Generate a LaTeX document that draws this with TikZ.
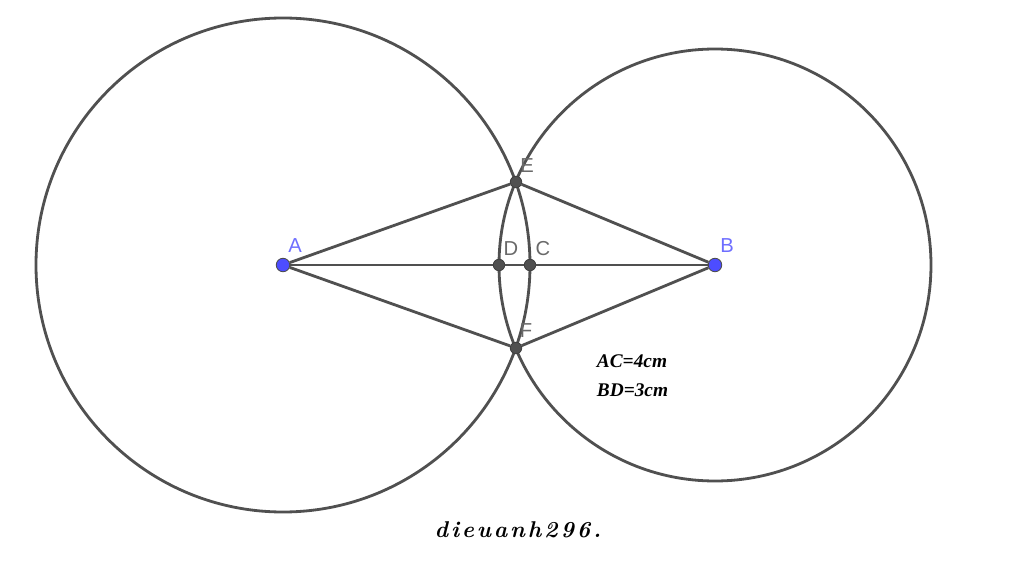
\documentclass[tikz,border=0pt]{standalone}
\usepackage{fontspec}
\setsansfont{Liberation Sans}
\newfontfamily\notefont{Liberation Serif}
\usetikzlibrary{backgrounds}
\definecolor{linegray}{RGB}{80,80,80}
\definecolor{labelgray}{RGB}{105,105,105}
\definecolor{pointblue}{RGB}{77,77,255}
\definecolor{labelblue}{RGB}{110,110,255}
\newcommand{\sgap}{\kern1.6pt}
\tikzset{
  pointdark/.style={circle, draw=black!75, fill=linegray, line width=0.5pt, inner sep=0pt, minimum size=0.23cm},
  pointfree/.style={circle, draw=black!70, fill=pointblue, line width=0.5pt, inner sep=0pt, minimum size=0.27cm},
  geoline/.style={line width=1.6pt, linegray},
  graylabel/.style={labelgray, font=\sffamily\fontsize{11.5}{13}\selectfont},
  bluelabel/.style={labelblue, font=\sffamily\fontsize{11.5}{13}\selectfont},
  notelabel/.style={font=\notefont\bfseries\itshape\fontsize{11}{13}\selectfont}
}

\begin{document}
\begin{tikzpicture}
  \useasboundingbox (0,0) rectangle (20.48,11.36);
  \node[pointfree] (A) at (5.66,6.06) {};
  \node[pointfree] (B) at (14.30,6.06) {};
  \node[pointdark] (E) at (10.32,7.72) {};
  \node[pointdark] (F) at (10.32,4.40) {};
  \node[pointdark] (C) at (10.60,6.06) {};
  \node[pointdark] (D) at (9.98,6.06) {};
  \begin{scope}[on background layer]
    \draw[geoline] (A.center) circle (4.94);
    \draw[geoline] (B.center) circle (4.32);
    \draw[geoline] (A) -- (D) -- (C) -- (B);
    \draw[geoline] (A) -- (E) -- (B) -- (F) -- (A);
  \end{scope}
  \node[bluelabel] (labelA) at (5.90,6.44) {A};
  \node[bluelabel] (labelB) at (14.54,6.44) {B};
  \node[graylabel] (labelE) at (10.54,8.04) {E};
  \node[graylabel] (labelF) at (10.52,4.74) {F};
  \node[graylabel] (labelC) at (10.86,6.38) {C};
  \node[graylabel] (labelD) at (10.22,6.38) {D};
  \node[notelabel] (noteAC) at (12.64,4.14) {AC=4cm};
  \node[notelabel] (noteBD) at (12.65,3.56) {BD=3cm};
  \node[font=\bfseries\itshape\fontsize{13}{15}\selectfont] (signature) at (10.36,0.76) {d\sgap i\sgap e\sgap u\sgap a\sgap n\sgap h\sgap 2\sgap 9\sgap 6\sgap .};
\end{tikzpicture}
\end{document}
